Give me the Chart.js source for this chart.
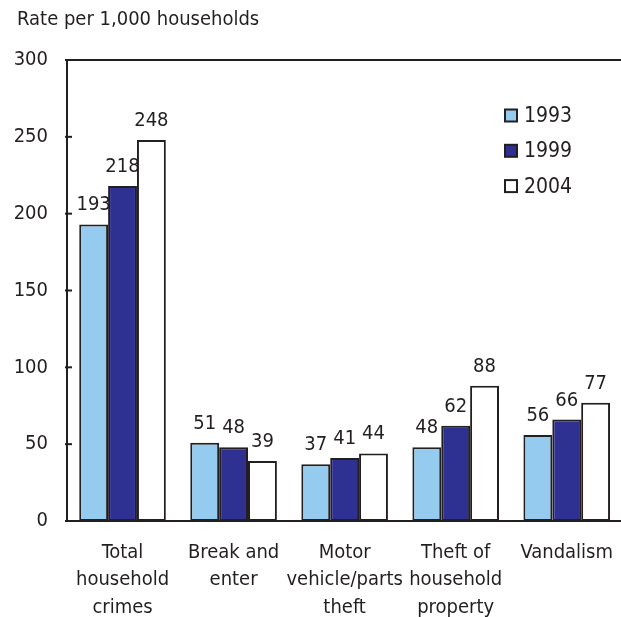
<!DOCTYPE html>
<html>
<head>
<meta charset="utf-8">
<script src="https://cdn.jsdelivr.net/npm/chart.js@4/dist/chart.umd.min.js"></script>
<style>
  html, body { margin: 0; padding: 0; background: #fff; overflow: hidden; }
  #wrap { width: 631px; height: 617px; }
</style>
</head>
<body>
<div id="wrap"><canvas id="chart" width="631" height="617"></canvas></div>
<script>
// data
const categories = [
  ['Total', 'household', 'crimes'],
  ['Break and', 'enter'],
  ['Motor', 'vehicle/parts', 'theft'],
  ['Theft of', 'household', 'property'],
  ['Vandalism']
];
const years = ['1993', '1999', '2004'];
const rates1993 = [193, 51, 37, 48, 56];
const rates1999 = [218, 48, 41, 62, 66];
const rates2004 = [248, 39, 44, 88, 77];
const yTicks = [0, 50, 100, 150, 200, 250, 300];
const yTitle = 'Rate per 1,000 households';

const FONT = '"DejaVu Sans Condensed", "DejaVu Sans", sans-serif';
const INK = '#231f20';
const colors = ['#94cbee', '#2e3192', '#ffffff'];

// frame, inward ticks, title, value labels and legend
const extras = {
  id: 'extras',
  afterDatasetsDraw(chart) {
    const { ctx, chartArea: a, scales } = chart;
    ctx.save();
    ctx.strokeStyle = INK;
    ctx.lineWidth = 2;
    ctx.strokeRect(a.left, a.top, a.right - a.left, a.bottom - a.top);
    yTicks.forEach(v => {
      const y = scales.y.getPixelForValue(v);
      ctx.beginPath();
      ctx.moveTo(a.left - 2, y);
      ctx.lineTo(a.left + 5, y);
      ctx.stroke();
    });

    ctx.fillStyle = INK;
    ctx.font = '20px ' + FONT;
    ctx.textAlign = 'left';
    ctx.textBaseline = 'middle';
    ctx.fillText(yTitle, 17, 20);

    ctx.textAlign = 'center';
    ctx.textBaseline = 'alphabetic';
    chart.data.datasets.forEach((ds, i) => {
      chart.getDatasetMeta(i).data.forEach((bar, j) => {
        ctx.fillText(String(ds.data[j]), bar.x, bar.y - 14);
      });
    });

    // legend
    ctx.font = '21px ' + FONT;
    ctx.textAlign = 'left';
    ctx.textBaseline = 'middle';
    ctx.lineWidth = 2;
    chart.data.datasets.forEach((ds, i) => {
      const y = 115.5 + i * 35.3;
      ctx.fillStyle = ds.backgroundColor;
      ctx.fillRect(505, y - 6, 12, 12);
      ctx.strokeRect(505, y - 6, 12, 12);
      ctx.fillStyle = INK;
      ctx.fillText(ds.label, 524, y + 1);
    });
    ctx.restore();
  }
};

new Chart(document.getElementById('chart'), {
  type: 'bar',
  data: {
    labels: categories,
    datasets: [rates1993, rates1999, rates2004].map((d, i) => ({
      label: years[i],
      data: d,
      backgroundColor: colors[i],
      borderColor: INK,
      borderWidth: 2,
      borderSkipped: false,
      barPercentage: 1.0,
      categoryPercentage: 0.78
    }))
  },
  options: {
    responsive: false,
    animation: false,
    devicePixelRatio: 1,
    layout: { padding: { top: 60, left: 0, right: 0, bottom: 0 } },
    plugins: { legend: { display: false }, tooltip: { enabled: false } },
    scales: {
      x: {
        grid: { display: false, drawTicks: false },
        border: { display: false },
        afterFit: s => { s.height = 96; },
        ticks: {
          color: INK,
          padding: 18,
          maxRotation: 0,
          autoSkip: false,
          font: { family: FONT, size: 20, lineHeight: 1.375 }
        }
      },
      y: {
        min: 0,
        max: 300,
        afterFit: s => { s.width = 67; },
        afterBuildTicks: s => { s.ticks = yTicks.map(v => ({ value: v })); },
        grid: { display: false, drawTicks: false },
        border: { display: false },
        ticks: {
          color: INK,
          padding: 19,
          font: { family: FONT, size: 20 }
        }
      }
    }
  },
  plugins: [extras]
});
</script>
</body>
</html>
